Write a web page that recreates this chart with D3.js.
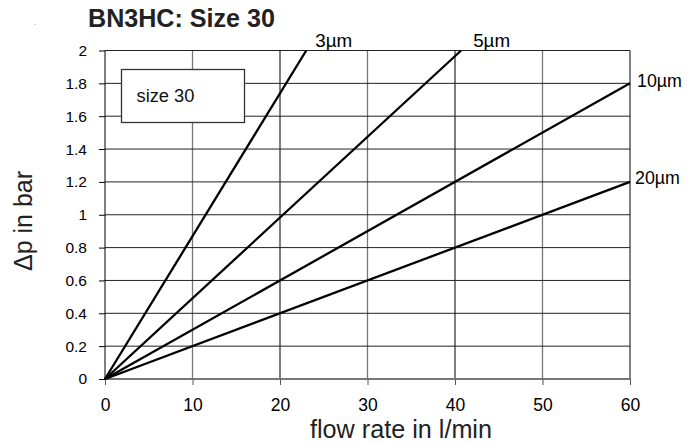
<!DOCTYPE html>
<html><head><meta charset="utf-8">
<script src="https://cdn.jsdelivr.net/npm/d3@7"></script>
<style>body{margin:0;background:#fff}svg{display:block}text{font-family:"Liberation Sans",Arial,sans-serif}</style>
</head><body>
<div id="chart"></div>
<script>
const title = "BN3HC: Size 30";
const legendLabel = "size 30";
const xTicks = [0,10,20,30,40,50,60];
const yTicks = [0,0.2,0.4,0.6,0.8,1,1.2,1.4,1.6,1.8,2];
const seriesNames = ["3µm","5µm","10µm","20µm"];
const seriesX = [[0,23],[0,40.7],[0,60],[0,60]];
const seriesY = [[0,2],[0,2],[0,1.8],[0,1.2]];

const W=698,H=445;
const m={l:105,r:68,t:50.5,b:66};
const svg=d3.select("#chart").append("svg").attr("width",W).attr("height",H);
const x=d3.scaleLinear().domain([0,60]).range([m.l,W-m.r]);
const y=d3.scaleLinear().domain([0,2]).range([H-m.b,m.t]);
const FF="Liberation Sans, Arial, sans-serif";
function fit(sel,target){
  const w=sel.node().getComputedTextLength();
  if(w>0){const fs=parseFloat(sel.attr("font-size"));sel.attr("font-size",(fs*target/w).toFixed(2));}
  return sel;
}

// grid
const g=svg.append("g");
g.selectAll(".vg").data(xTicks.slice(1)).join("line")
 .attr("x1",d=>x(d)).attr("x2",d=>x(d)).attr("y1",y(0)).attr("y2",y(2))
 .attr("stroke",d=>(d%20===10)?"#777":"#000").attr("stroke-width",d=>(d%20===10)?1.3:1);
g.selectAll(".hg").data(yTicks.slice(1)).join("line")
 .attr("x1",x(0)).attr("x2",x(60)).attr("y1",d=>y(d)).attr("y2",d=>y(d))
 .attr("stroke","#222").attr("stroke-width",1);

// axes
const xa=svg.append("g").attr("transform",`translate(0,${y(0)})`)
 .call(d3.axisBottom(x).tickValues(xTicks).tickSize(6).tickPadding(14).tickFormat(d3.format("d")));
xa.select(".domain").attr("stroke","#777").attr("stroke-width",2).attr("d",`M${x(0)},0H${x(60)}`);
xa.selectAll(".tick line").attr("stroke","#555");
xa.selectAll("text").attr("font-size",17.5).attr("fill","#000").attr("font-family",FF);
const ya=svg.append("g").attr("transform",`translate(${x(0)},0)`)
 .call(d3.axisLeft(y).tickValues(yTicks).tickSize(6).tickPadding(12).tickFormat(d=>d3.format("")(+d.toFixed(1))));
ya.select(".domain").attr("stroke","#000").attr("d",`M0,${y(0)}V${y(2)}`);
ya.selectAll(".tick line").attr("stroke","#000");
ya.selectAll("text").attr("font-size",15.5).attr("fill","#000").attr("font-family",FF);

// legend box
svg.append("rect").attr("x",121.5).attr("y",69.5).attr("width",123).attr("height",53)
 .attr("fill","#fff").attr("stroke","#333").attr("stroke-width",1.3);
fit(svg.append("text").attr("x",136.5).attr("y",101.5).attr("font-size",18).attr("fill","#111").text(legendLabel),58);

// lines
const line=d3.line().x(d=>x(d[0])).y(d=>y(d[1]));
seriesNames.forEach((n,i)=>{
  const pts=seriesX[i].map((v,j)=>[v,seriesY[i][j]]);
  svg.append("path").attr("d",line(pts)).attr("fill","none").attr("stroke","#000").attr("stroke-width",2.3);
});
// series labels
fit(svg.append("text").attr("x",x(seriesX[0][1])+9).attr("y",y(2)-4).attr("font-size",16.5).text(seriesNames[0]),37);
fit(svg.append("text").attr("x",x(seriesX[1][1])+12).attr("y",y(2)-4).attr("font-size",16.5).text(seriesNames[1]),37);
fit(svg.append("text").attr("x",x(60)+7).attr("y",y(seriesY[2][1])+3.5).attr("font-size",16.5).text(seriesNames[2]),45);
fit(svg.append("text").attr("x",x(60)+5).attr("y",y(seriesY[3][1])+2).attr("font-size",16.5).text(seriesNames[3]),45);

// titles
fit(svg.append("text").attr("x",88).attr("y",27).attr("font-size",22.5).attr("font-weight","bold").attr("fill","#222").text(title),187);
svg.append("text").attr("x",34).attr("y",25).attr("font-size",8).attr("fill","#888").text(".");
fit(svg.append("text").attr("x",401).attr("y",438).attr("text-anchor","middle").attr("font-size",25).attr("fill","#222").text("flow rate in l/min"),182);
svg.append("text").attr("transform","translate(32,221) rotate(-90)").attr("text-anchor","middle").attr("font-size",25).attr("fill","#222").text("Δp in bar");
</script>
</body></html>
